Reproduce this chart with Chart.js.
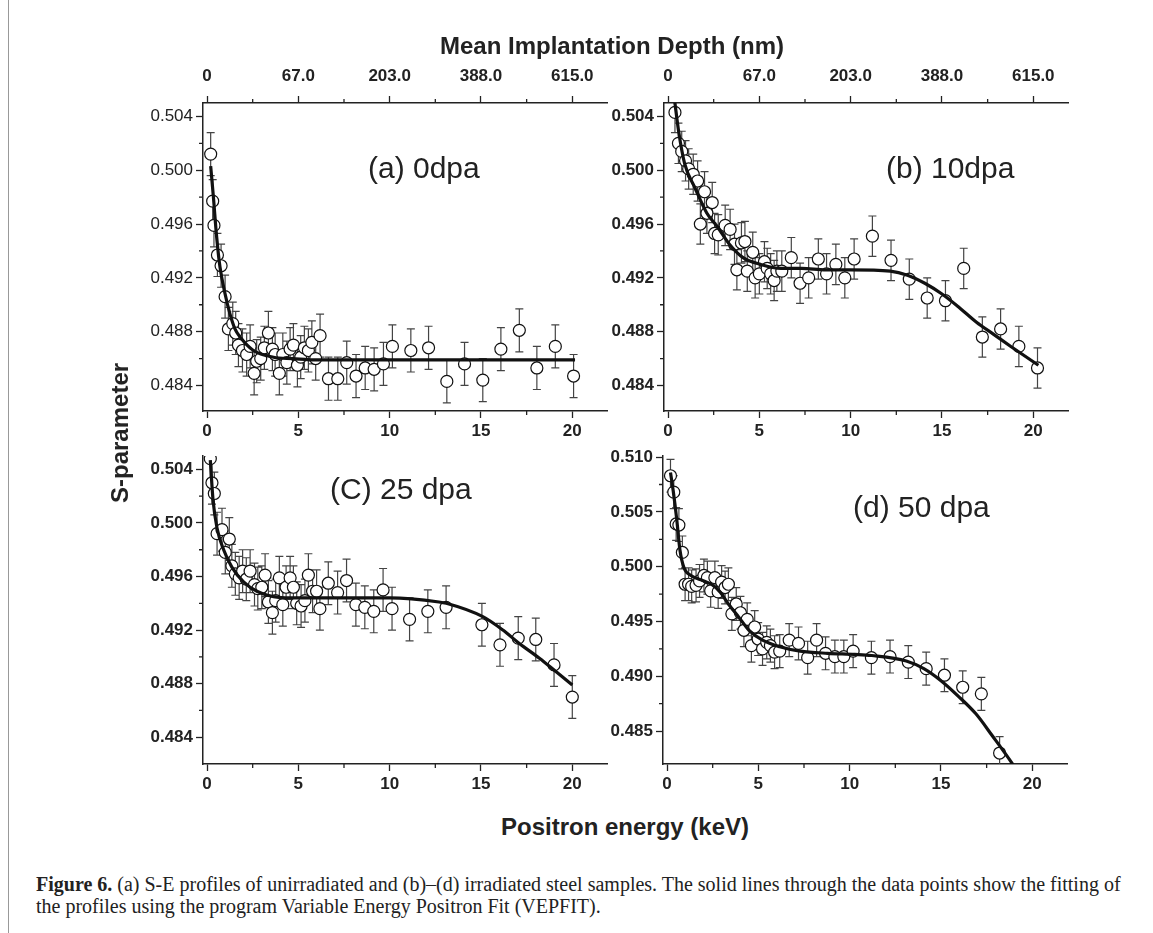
<!DOCTYPE html>
<html lang="en">
<head>
<meta charset="UTF-8">
<title>Figure 6 - S-E profiles</title>
<script src="https://cdn.jsdelivr.net/npm/chart.js"></script>
<style>
  body { margin: 0; background: #fff; width: 1153px; height: 933px; position: relative; overflow: hidden; font-family: "Liberation Sans", Arial, sans-serif; color: #222; }
  canvas { position: absolute; }
  .txt { position: absolute; white-space: nowrap; line-height: 1; }
  .panel { font-size: 30px; transform: translateY(-50%); }
  .axis { font-size: 24px; font-weight: bold; }
  .frame { position: absolute; background: #999; }
  .caption { position: absolute; left: 36px; top: 873px; font-family: "Liberation Serif", "DejaVu Serif", serif; font-size: 20px; line-height: 22px; color: #222; white-space: nowrap; }
</style>
</head>
<body>
<div class="frame" style="left:8px; top:0; width:1px; height:933px;"></div>

<canvas id="chartA" width="490" height="400" style="left:130px; top:40px;"></canvas>
<canvas id="chartB" width="490" height="400" style="left:591px; top:40px;"></canvas>
<canvas id="chartC" width="490" height="353" style="left:130px; top:440px;"></canvas>
<canvas id="chartD" width="490" height="353" style="left:590px; top:440px;"></canvas>

<div class="txt axis" style="left:612px; top:46px; transform:translate(-50%,-50%);">Mean Implantation Depth (nm)</div>
<div class="txt axis" style="left:120px; top:433px; transform:translate(-50%,-50%) rotate(-90deg);">S-parameter</div>
<div class="txt axis" style="left:625px; top:827px; transform:translate(-50%,-50%);">Positron energy (keV)</div>

<div class="txt panel" style="left:368px; top:168px;">(a) 0dpa</div>
<div class="txt panel" style="left:886px; top:168px;">(b) 10dpa</div>
<div class="txt panel" style="left:330px; top:489px;">(C) 25 dpa</div>
<div class="txt panel" style="left:853px; top:507px;">(d) 50 dpa</div>

<div class="caption"><b>Figure 6.</b> (a) S-E profiles of unirradiated and (b)&ndash;(d) irradiated steel samples. The solid lines through the data points show the fitting of<br>the profiles using the program Variable Energy Positron Fit (VEPFIT).</div>

<script>
// axis ticks
const energyTicks = [0, 5, 10, 15, 20];
const energyMinor = [2.5, 7.5, 12.5, 17.5];
const depthLabels = ['0', '67.0', '203.0', '388.0', '615.0'];
const sTicks = [0.484, 0.488, 0.492, 0.496, 0.500, 0.504];
const sMinor = [0.486, 0.490, 0.494, 0.498, 0.502];
const sTicksD = [0.485, 0.490, 0.495, 0.500, 0.505, 0.510];
const sMinorD = [0.4875, 0.4925, 0.4975, 0.5025, 0.5075];

// (a) 0 dpa
const eA = [0.2,0.31,0.38,0.57,0.77,0.99,1.17,1.41,1.57,1.72,1.94,2.17,2.36,2.58,2.72,2.94,3.14,3.36,3.58,3.73,3.96,4.15,4.37,4.55,4.73,4.95,5.13,5.33,5.55,5.74,5.95,6.19,6.65,7.16,7.65,8.16,8.66,9.15,9.66,10.15,11.16,12.13,13.13,14.1,15.1,16.09,17.1,18.06,19.07,20.07];
const sA = [0.5012,0.4977,0.4959,0.4937,0.4929,0.4906,0.4882,0.4886,0.4879,0.4870,0.4866,0.4863,0.4869,0.4849,0.4858,0.4860,0.4868,0.4879,0.4867,0.4863,0.4849,0.4863,0.4857,0.4867,0.4870,0.4855,0.4861,0.4868,0.4866,0.4872,0.4860,0.4877,0.4845,0.4845,0.4857,0.4847,0.4853,0.4852,0.4856,0.4869,0.4866,0.4868,0.4843,0.4856,0.4844,0.4867,0.4881,0.4853,0.4869,0.4847];
const fitEA = [0.2,0.35,0.53,0.71,0.99,1.26,1.53,1.81,2.54,3.64,4.7,6,10,15,20.15];
const fitSA = [0.5003,0.4980,0.4950,0.4928,0.4908,0.4893,0.4882,0.4876,0.4866,0.4861,0.4860,0.4859,0.4859,0.4859,0.4859];

// (b) 10 dpa
const eB = [0.38,0.57,0.75,0.96,1.13,1.38,1.62,1.77,2.0,2.13,2.42,2.55,2.75,3.13,3.4,3.64,3.77,4.02,4.21,4.34,4.64,4.77,5.0,5.28,5.43,5.62,5.81,5.96,6.23,6.75,7.23,7.7,8.23,8.68,9.19,9.68,10.19,11.19,12.21,13.21,14.19,15.19,16.19,17.21,18.21,19.21,20.23];
const sB = [0.5043,0.5020,0.5014,0.5007,0.5001,0.4997,0.4992,0.4960,0.4984,0.4968,0.4976,0.4953,0.4952,0.4959,0.4956,0.4945,0.4926,0.4946,0.4947,0.4925,0.4939,0.4920,0.4923,0.4932,0.4927,0.4923,0.4918,0.4925,0.4925,0.4935,0.4916,0.4920,0.4934,0.4923,0.4930,0.4920,0.4934,0.4951,0.4933,0.4919,0.4905,0.4903,0.4927,0.4876,0.4882,0.4869,0.4853];
const fitEB = [0.36,0.57,0.91,1.47,2.13,2.7,3.36,4.11,5.06,6.19,7.32,8.64,10,12.17,13.11,14.06,15.0,15.94,16.89,17.83,18.77,20.28];
const fitSB = [0.5052,0.5030,0.5005,0.4987,0.4968,0.4958,0.4945,0.4935,0.4930,0.4927,0.4927,0.4926,0.4926,0.4925,0.4922,0.4916,0.4908,0.4898,0.4887,0.4878,0.4869,0.4855];

// (C) 25 dpa
const eC = [0.18,0.27,0.4,0.55,0.82,1.0,1.22,1.36,1.55,1.76,1.95,2.15,2.36,2.6,2.78,3.0,3.18,3.36,3.58,3.76,3.96,4.15,4.33,4.55,4.73,4.91,5.15,5.36,5.55,5.78,6.0,6.18,6.64,7.15,7.64,8.15,8.64,9.13,9.64,10.13,11.09,12.09,13.09,15.05,16.04,17.04,18.0,19.0,20.0];
const sC = [0.5048,0.5030,0.5022,0.4992,0.4995,0.4978,0.4988,0.4968,0.4962,0.4959,0.4964,0.4958,0.4964,0.4954,0.4951,0.4952,0.4961,0.4941,0.4933,0.4942,0.4959,0.4939,0.4952,0.4959,0.4952,0.4940,0.4938,0.4942,0.4961,0.4949,0.4949,0.4936,0.4955,0.4948,0.4957,0.4939,0.4937,0.4934,0.4950,0.4936,0.4928,0.4934,0.4937,0.4924,0.4909,0.4914,0.4913,0.4894,0.4870];
const fitEC = [0.18,0.33,0.55,0.91,1.36,2.0,2.73,3.64,4.55,7,10,12.7,13.1,15.1,16.2,17.1,18.2,19.1,20.0];
const fitSC = [0.5047,0.5017,0.4996,0.4980,0.4967,0.4956,0.4949,0.4945,0.4944,0.4944,0.4944,0.4941,0.4940,0.4930,0.4920,0.4910,0.4899,0.4889,0.4879];

// (d) 50 dpa
const eD = [0.19,0.37,0.5,0.65,0.84,0.99,1.18,1.35,1.59,1.78,2.02,2.21,2.39,2.62,2.8,2.99,3.18,3.36,3.55,3.79,4.02,4.21,4.39,4.62,4.8,4.99,5.23,5.46,5.66,5.89,6.17,6.69,7.2,7.7,8.19,8.68,9.19,9.68,10.19,11.19,12.21,13.21,14.19,15.19,16.19,17.21,18.21];
const sD = [0.5083,0.5068,0.5039,0.5038,0.5013,0.4984,0.4984,0.4982,0.4983,0.4987,0.4992,0.4990,0.4978,0.4990,0.4977,0.4986,0.4981,0.4984,0.4957,0.4966,0.4958,0.4942,0.4952,0.4928,0.4945,0.4934,0.4925,0.4931,0.4928,0.4922,0.4923,0.4933,0.4930,0.4917,0.4933,0.4921,0.4918,0.4918,0.4923,0.4917,0.4918,0.4913,0.4907,0.4901,0.4890,0.4884,0.4830];
const fitED = [0.19,0.34,0.52,0.71,0.93,1.31,1.87,2.43,2.9,3.36,3.93,4.49,5.23,6.17,7.29,8.79,10.28,11.2,13.1,14.06,15.0,15.94,16.9,17.8,18.96,19.3];
const fitSD = [0.5086,0.5069,0.5045,0.5015,0.4999,0.4992,0.4988,0.4984,0.4977,0.4966,0.4954,0.4942,0.4933,0.4927,0.4923,0.4921,0.4920,0.4919,0.4914,0.4907,0.4896,0.4882,0.4866,0.4846,0.4819,0.4810];

// error bar half-heights
const errA = 0.0016, errB = 0.0015, errC = 0.0016, errD = 0.0015;

const INK = '#222';

// draws vertical error bars for the scatter dataset (index 1)
const errorBars = {
    id: 'errorBars',
    beforeDatasetsDraw(chart, args, opts) {
        const ctx = chart.ctx;
        const x = chart.scales.x, y = chart.scales.y;
        const pts = chart.data.datasets[1].data;
        ctx.save();
        ctx.beginPath();
        ctx.rect(chart.chartArea.left, chart.chartArea.top, chart.chartArea.width, chart.chartArea.height);
        ctx.clip();
        ctx.strokeStyle = '#444';
        ctx.lineWidth = 1.2;
        ctx.beginPath();
        pts.forEach(p => {
            const px = x.getPixelForValue(p.x);
            const top = y.getPixelForValue(p.y + opts.err);
            const bot = y.getPixelForValue(p.y - opts.err);
            ctx.moveTo(px, top); ctx.lineTo(px, bot);
            ctx.moveTo(px - 4, top); ctx.lineTo(px + 4, top);
            ctx.moveTo(px - 4, bot); ctx.lineTo(px + 4, bot);
        });
        ctx.stroke();
        ctx.restore();
    }
};

// short minor ticks between the labelled ones
const minorTicks = {
    id: 'minorTicks',
    afterDraw(chart, args, opts) {
        const ctx = chart.ctx, a = chart.chartArea;
        const x = chart.scales.x, y = chart.scales.y;
        ctx.save();
        ctx.strokeStyle = INK;
        ctx.lineWidth = 1.3;
        ctx.beginPath();
        opts.x.forEach(v => {
            const px = x.getPixelForValue(v);
            ctx.moveTo(px, a.bottom); ctx.lineTo(px, a.bottom + 4);
            if (opts.top) { ctx.moveTo(px, a.top); ctx.lineTo(px, a.top - 4); }
        });
        opts.y.forEach(v => {
            const py = y.getPixelForValue(v);
            ctx.moveTo(a.left, py); ctx.lineTo(a.left - 4, py);
        });
        ctx.stroke();
        ctx.restore();
    }
};

function makePanel(id, cfg) {
    const font = { family: '"Liberation Sans", Arial, sans-serif', size: 17, weight: 'bold' };
    const yFont = Object.assign({}, font, { weight: cfg.yBold ? 'bold' : 'normal' });
    const grid = { drawOnChartArea: false, drawTicks: true, tickLength: 7, tickColor: INK, tickWidth: 1.3 };
    const border = { color: INK, width: 1.5 };

    new Chart(document.getElementById(id), {
        type: 'scatter',
        data: {
            datasets: [
                {
                    type: 'line',
                    data: cfg.fitE.map((e, i) => ({ x: e, y: cfg.fitS[i] })),
                    borderColor: '#111',
                    borderWidth: 3.2,
                    pointRadius: 0,
                    cubicInterpolationMode: 'monotone',
                    fill: false,
                    order: 0,
                    xAxisID: 'x', yAxisID: 'y'
                },
                {
                    data: cfg.e.map((e, i) => ({ x: e, y: cfg.s[i] })),
                    pointRadius: 6,
                    pointBackgroundColor: '#fff',
                    pointBorderColor: '#111',
                    pointBorderWidth: 1.2,
                    order: 1,
                    xAxisID: 'x', yAxisID: 'y'
                }
            ]
        },
        options: {
            responsive: false,
            animation: false,
            layout: { padding: { top: cfg.top ? 0 : 16, right: 13, left: 0, bottom: 0 } },
            plugins: {
                legend: { display: false },
                tooltip: { enabled: false },
                errorBars: { err: cfg.err },
                minorTicks: { x: energyMinor, y: cfg.yMinor, top: cfg.top }
            },
            scales: {
                x: {
                    type: 'linear', position: 'bottom', min: -0.22, max: 21.9,
                    afterBuildTicks: s => { s.ticks = energyTicks.map(v => ({ value: v })); },
                    afterFit: s => { s.height = 29; },
                    ticks: { font: font, color: INK, padding: 3, maxRotation: 0, callback: v => String(v) },
                    grid: grid, border: border
                },
                top: {
                    axis: 'x', type: 'linear', position: 'top', display: cfg.top, min: -0.22, max: 21.9,
                    afterBuildTicks: s => { s.ticks = energyTicks.map(v => ({ value: v })); },
                    // only the upper panels carry the depth axis
                    afterFit: s => { s.height = cfg.top ? 63 : 0; },
                    ticks: { font: font, color: INK, padding: 9, maxRotation: 0, callback: v => depthLabels[energyTicks.indexOf(v)] },
                    grid: grid, border: border
                },
                y: {
                    type: 'linear', min: cfg.yMin, max: cfg.yMax,
                    afterBuildTicks: s => { s.ticks = cfg.yTicks.map(v => ({ value: v })); },
                    afterFit: s => { s.width = 73; },
                    ticks: { font: yFont, color: INK, padding: 3, callback: v => v.toFixed(3) },
                    grid: grid, border: border
                }
            }
        },
        plugins: [errorBars, minorTicks]
    });
}

makePanel('chartA', { e: eA, s: sA, fitE: fitEA, fitS: fitSA, err: errA, top: true, yBold: false,
    yMin: 0.4821, yMax: 0.5050, yTicks: sTicks, yMinor: sMinor });
makePanel('chartB', { e: eB, s: sB, fitE: fitEB, fitS: fitSB, err: errB, top: true, yBold: true,
    yMin: 0.4821, yMax: 0.5050, yTicks: sTicks, yMinor: sMinor });
makePanel('chartC', { e: eC, s: sC, fitE: fitEC, fitS: fitSC, err: errC, top: false, yBold: true,
    yMin: 0.4820, yMax: 0.5050, yTicks: sTicks, yMinor: sMinor });
makePanel('chartD', { e: eD, s: sD, fitE: fitED, fitS: fitSD, err: errD, top: false, yBold: true,
    yMin: 0.4820, yMax: 0.5101, yTicks: sTicksD, yMinor: sMinorD });
</script>
</body>
</html>
